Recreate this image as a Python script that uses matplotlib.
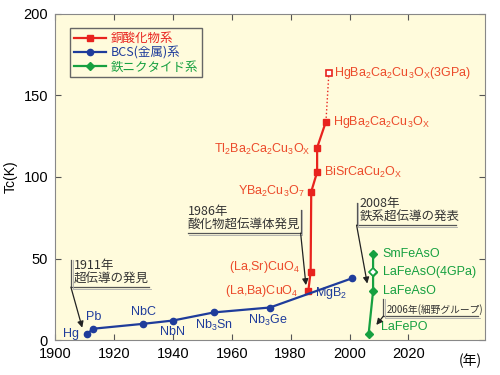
import matplotlib.pyplot as plt

plt.rcParams['font.family'] = ['Liberation Sans', 'Noto Sans CJK JP', 'DejaVu Sans']
plt.rcParams['mathtext.fontset'] = 'custom'
plt.rcParams['mathtext.rm'] = 'Liberation Sans'
plt.rcParams['mathtext.it'] = 'Liberation Sans'
plt.rcParams['mathtext.default'] = 'regular'
jp = ['Noto Sans CJK JP', 'DejaVu Sans']

# BCS (metal) superconductors
bcs_names = ['Hg', 'Pb', 'NbC', 'NbN', r'Nb$_3$Sn', r'Nb$_3$Ge', r'MgB$_2$']
bcs_year = [1911, 1913, 1930, 1940, 1954, 1973, 2001]
bcs_tc = [4, 7, 10, 12, 17, 20, 38]

# cuprates
cu_names = [r'(La,Ba)CuO$_4$', r'(La,Sr)CuO$_4$', r'YBa$_2$Cu$_3$O$_7$',
            r'BiSrCaCu$_2$O$_X$', r'Tl$_2$Ba$_2$Ca$_2$Cu$_3$O$_X$',
            r'HgBa$_2$Ca$_2$Cu$_3$O$_X$']
cu_year = [1986, 1986.8, 1987, 1989, 1989, 1992]
cu_tc = [30, 42, 91, 103, 118, 134]
hp_name = r'HgBa$_2$Ca$_2$Cu$_3$O$_X$(3GPa)'
hp_year = 1993
hp_tc = 164

# iron based
fe_names = ['LaFePO', 'LaFeAsO', 'LaFeAsO(4GPa)', 'SmFeAsO']
fe_year = [2006.5, 2008, 2008, 2008]
fe_tc = [4, 30, 42, 53]

red = '#e8231e'
redtxt = '#ec4a2a'
blue = '#1f3c9b'
green = '#16a040'
bg = '#fffbdc'
gray = '#555555'

fig = plt.figure(figsize=(5, 3.75), dpi=100)
ax = fig.add_axes([0.11, 0.093, 0.86, 0.87])
ax.set_facecolor(bg)

ax.plot(cu_year, cu_tc, color=red, marker='s', ms=4.5, lw=1.6, label='銅酸化物系')
ax.plot([cu_year[-1], hp_year], [cu_tc[-1], hp_tc], color=red, lw=1, ls=':')
ax.plot(hp_year, hp_tc, marker='s', ms=5, mfc='white', mec=red, mew=1.2, ls='none')
ax.plot(bcs_year, bcs_tc, color=blue, marker='o', ms=4.5, lw=1.6, label='BCS(金属)系')
ax.plot(fe_year, fe_tc, color=green, marker='D', ms=4, lw=1.6, label='鉄ニクタイド系')
ax.plot(fe_year[2], fe_tc[2], marker='D', ms=4.5, mfc='white', mec=green, mew=1.2, ls='none')

fs = 9
# blue labels
offs = [(-6, 0, 'right', 'center'), (0, 4, 'center', 'bottom'), (0, 4, 'center', 'bottom'),
        (0, -4, 'center', 'top'), (0, -4, 'center', 'top'), (-2, -4, 'center', 'top'),
        (-4, -5, 'right', 'top')]
for n, x, y, o in zip(bcs_names, bcs_year, bcs_tc, offs):
    ax.annotate(n, (x, y), xytext=(o[0], o[1]), textcoords='offset points',
                ha=o[2], va=o[3], color=blue, fontsize=fs)

# red labels
offs = [(-7, 0, 'right'), (-8, 3, 'right'), (-5, 0, 'right'), (5, 0, 'left'),
        (-5, -1, 'right'), (5, 0, 'left')]
for n, x, y, o in zip(cu_names, cu_year, cu_tc, offs):
    ax.annotate(n, (x, y), xytext=(o[0], o[1]), textcoords='offset points',
                ha=o[2], va='center', color=redtxt, fontsize=fs)
ax.annotate(hp_name, (hp_year, hp_tc), xytext=(4, 0), textcoords='offset points',
            ha='left', va='center', color=redtxt, fontsize=fs)

# green labels
offs = [(9, 5), (7, 0), (7, 0), (7, 0)]
for n, x, y, o in zip(fe_names, fe_year, fe_tc, offs):
    ax.annotate(n, (x, y), xytext=o, textcoords='offset points',
                ha='left', va='center', color=green, fontsize=fs)


def bracket(x0, x1, ytop, ybot, side, text, size, tip):
    # L-shaped bracket under the note, with arrow to the point
    xv = x0 if side == 'left' else x1
    xe = x1 if side == 'left' else x0
    ax.plot([xv, xv, xe], [ytop, ybot, ybot], color=gray, lw=0.9)
    ax.plot([xv + 0.6, xv + 0.6, xe + 0.6], [ytop, ybot - 1, ybot - 1],
            color='#aaaaaa', lw=0.6)
    tx = x0 + 1 if side == 'left' else x0
    ax.text(tx, ybot + 0.8, text, family=jp, fontsize=size, color='#333333',
            ha='left', va='bottom', linespacing=1.05)
    ax.annotate('', tip, xytext=(xv, ybot), arrowprops=dict(
        arrowstyle='-|>', color='#222222', lw=0.9, mutation_scale=9, shrinkA=0, shrinkB=2))


bracket(1905.4, 1932, 49, 32.5, 'left', '1911年\n超伝導の発見', 9, (1909.5, 6))
bracket(1945, 1983.4, 80, 65.6, 'right', '1986年\n酸化物超伝導体発見', 9, (1985.3, 32))
bracket(2002.4, 2036, 84, 70.5, 'left', '2008年\n鉄系超伝導の発表', 9, (2006.2, 33))
bracket(2011.5, 2043.7, 25, 14.7, 'left', '2006年(細野グループ)', 7, (2008.5, 8))

ax.set_xlim(1900, 2046)
ax.set_ylim(0, 200)
ax.set_xticks([1900, 1920, 1940, 1960, 1980, 2000, 2020])
ax.set_yticks([0, 50, 100, 150, 200])
ax.tick_params(direction='in', top=True, right=True, labelsize=10.5, length=4,
               color=gray, pad=5)
for s in ax.spines.values():
    s.set_color('#888888')
ax.set_ylabel('Tc(K)', fontsize=10)
fig.text(0.94, 0.038, '(年)', family=jp, fontsize=10, ha='center', va='center')

leg = ax.legend(loc='upper left', bbox_to_anchor=(0.02, 0.975),
                handlelength=2.6, fancybox=False, edgecolor='#666666',
                facecolor=bg, framealpha=1, borderpad=0.3, labelspacing=0.1,
                handletextpad=0.4, prop={'family': jp, 'size': 9})
for t, c in zip(leg.get_texts(), [red, blue, green]):
    t.set_color(c)

fig.savefig('out.png')
